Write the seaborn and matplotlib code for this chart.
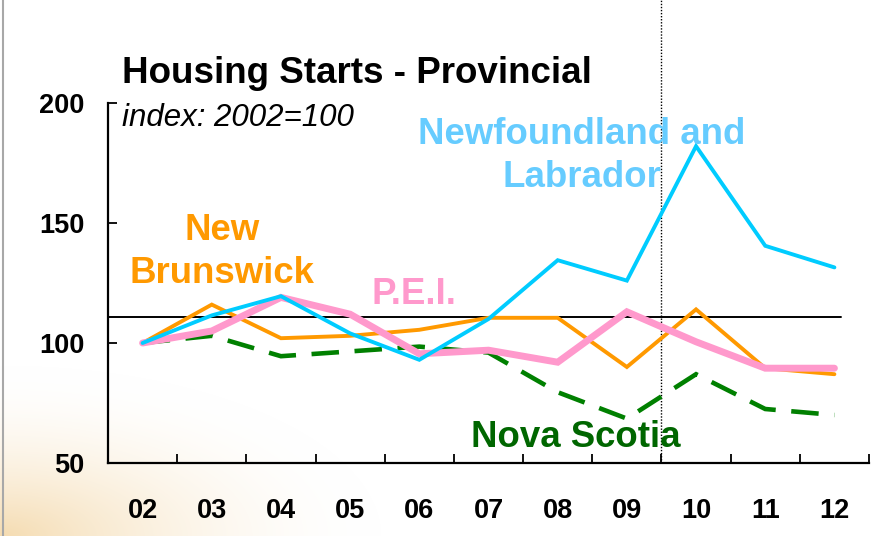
import numpy as np
import pandas as pd
import matplotlib
matplotlib.use("Agg")
import matplotlib.pyplot as plt
from matplotlib.lines import Line2D
import seaborn as sns

# ---- data ----
years = ["02", "03", "04", "05", "06", "07", "08", "09", "10", "11", "12"]
newfoundland = [100, 111.5, 119.5, 104, 93, 110, 134.5, 126, 182, 140.5, 131.5]
new_brunswick = [100, 116, 102, 103, 105.5, 110.5, 110.5, 90, 114, 89.5, 87]
pei = [100, 105, 119, 112, 95.5, 97, 92, 113, 100.5, 89.5, 89.5]
nova_scotia = [100, 103, 94.5, 96.5, 98.5, 96, 79.5, 68.5, 87, 72.5, 70]
reference_level = 110.7
y_ticks = [50, 100, 150, 200]

sns.set_theme(style="white")
plt.rcParams["font.family"] = ["Liberation Sans", "DejaVu Sans"]
plt.rcParams["lines.solid_joinstyle"] = "miter"
plt.rcParams["lines.dash_joinstyle"] = "miter"

W, H = 871, 536
fig = plt.figure(figsize=(W / 100, H / 100), dpi=100)

# background (faint warm gradient at bottom-left like the slide)
bg = fig.add_axes([0, 0, 1, 1], zorder=-5)
yy, xx = np.mgrid[0:H, 0:W]
t = np.clip(1 - np.sqrt((xx / 380.0) ** 2 + ((H - yy) / 170.0) ** 2), 0, 1)
a = (t ** 1.8) * 0.6
peach = np.array([238, 196, 125]) / 255.0
img = (1 - a[..., None]) * 1.0 + a[..., None] * peach
bg.imshow(img, aspect="auto", extent=[0, 1, 0, 1], origin="upper")
bg.set_axis_off()
fig.add_artist(Line2D([3 / W, 3 / W], [0, 1], color="#A8A8A8", lw=1.5, transform=fig.transFigure))

ax = fig.add_axes([108 / W, 1 - 463 / H, (869 - 108) / W, (463 - 103) / H])
ax.set_facecolor("none")

df = pd.DataFrame({
    "x": np.arange(len(years)),
    "nf": newfoundland,
    "nb": new_brunswick,
    "pei": pei,
    "ns": nova_scotia,
})

ax.axhline(reference_level, xmin=0, xmax=(10.1 + 0.5) / 11, color="black", lw=1.4, zorder=1)
sns.lineplot(data=df, x="x", y="ns", ax=ax, color="#008000", lw=3.3,
             linestyle=(0, (6.0, 3.4)), zorder=2)
sns.lineplot(data=df, x="x", y="nb", ax=ax, color="#FF9900", lw=2.8, zorder=3)
sns.lineplot(data=df, x="x", y="pei", ax=ax, color="#FF99CC", lw=5.0, zorder=4)
sns.lineplot(data=df, x="x", y="nf", ax=ax, color="#00CCFF", lw=2.8, zorder=5)

# vertical dotted separator between 09 and 10
ax.axvline(7.5, ymin=0, ymax=463 / 360, color="black", lw=1.0, linestyle=(0, (1, 1.2)),
           clip_on=False, zorder=1)

ax.set_xlim(-0.5, 10.5)
ax.set_ylim(50, 200)
ax.set_xticks(np.arange(len(years)))
ax.set_xticklabels(years)
ax.set_xticks(np.arange(-0.5, 11, 1), minor=True)
ax.set_yticks(y_ticks)
ax.set_yticklabels([str(v) for v in y_ticks])
ax.tick_params(axis="x", which="major", length=0, pad=25, labelsize=19.5)
ax.tick_params(axis="x", which="minor", direction="in", length=6.5, width=1.3, color="black", bottom=True)
ax.tick_params(axis="y", which="major", direction="in", length=6.5, width=1.3, color="black",
               left=True, pad=17, labelsize=19.5)
for lab in ax.get_xticklabels() + ax.get_yticklabels():
    lab.set_fontweight("bold")
    lab.set_color("black")
ax.set_xlabel("")
ax.set_ylabel("")
for s in ["top", "right"]:
    ax.spines[s].set_visible(False)
for s in ["left", "bottom"]:
    ax.spines[s].set_color("black")
    ax.spines[s].set_linewidth(1.6)
ax.grid(False)

def ftext(x, y, s, **kw):
    fig.text(x / W, 1 - y / H, s, **kw)

ftext(122, 83, "Housing Starts - Provincial", fontsize=26.5, fontweight="bold",
      color="black", ha="left", va="baseline")
ftext(122, 126, "index: 2002=100", fontsize=22.5, fontstyle="italic",
      color="black", ha="left", va="baseline")
lab_kw = dict(fontsize=26.4, fontweight="bold", ha="center", va="baseline")
ftext(582, 144, "Newfoundland and", color="#66CCFF", **lab_kw)
ftext(582, 187, "Labrador", color="#66CCFF", **lab_kw)
ftext(222, 240, "New", color="#FF9900", **lab_kw)
ftext(222, 283, "Brunswick", color="#FF9900", **lab_kw)
ftext(413.5, 304, "P.E.I.", color="#FF99CC", **lab_kw)
ftext(575.5, 447, "Nova Scotia", color="#006600", **lab_kw)

fig.savefig("out.png", dpi=100)
